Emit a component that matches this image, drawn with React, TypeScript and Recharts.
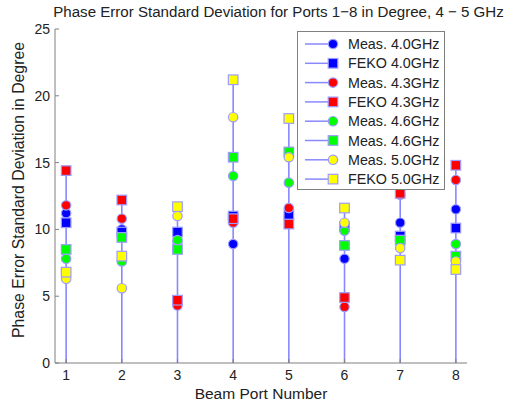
import {
  ReferenceLine,
  Scatter,
  ScatterChart,
  XAxis,
  YAxis,
} from 'recharts'

const ports = [1, 2, 3, 4, 5, 6, 7, 8]
const xTicks = [1, 2, 3, 4, 5, 6, 7, 8]
const yTicks = [0, 5, 10, 15, 20, 25]

const meas40 = [11.2, 10.0, 9.1, 8.9, 10.9, 7.8, 10.5, 11.5]
const feko40 = [10.5, 9.8, 9.8, 11.0, 11.1, 10.2, 9.5, 10.1]
const meas43 = [11.8, 10.8, 4.3, 10.5, 11.6, 4.2, 12.6, 13.7]
const feko43 = [14.4, 12.2, 4.7, 10.8, 10.4, 4.9, 12.7, 14.8]
const meas46 = [7.8, 7.6, 9.2, 14.0, 13.5, 9.9, 9.0, 8.9]
const feko46 = [8.5, 9.4, 8.5, 15.4, 15.8, 8.8, 9.2, 8.0]
const meas50 = [6.3, 5.6, 11.0, 18.4, 15.4, 10.5, 8.6, 7.6]
const feko50 = [6.8, 8.0, 11.7, 21.2, 18.3, 11.6, 7.7, 7.0]

const seriesNames = [
  'Meas. 4.0GHz',
  'FEKO 4.0GHz',
  'Meas. 4.3GHz',
  'FEKO 4.3GHz',
  'Meas. 4.6GHz',
  'Meas. 4.6GHz',
  'Meas. 5.0GHz',
  'FEKO 5.0GHz',
]
const seriesValues = [meas40, feko40, meas43, feko43, meas46, feko46, meas50, feko50]
const seriesColors = ['#0000ff', '#0000ff', '#ff0000', '#ff0000', '#00ff00', '#00ff00', '#ffff00', '#ffff00']
const seriesMarkers = ['circle', 'square', 'circle', 'square', 'circle', 'square', 'circle', 'square']

const title = 'Phase Error Standard Deviation for Ports 1\u22128 in Degree, 4 \u2212 5 GHz'
const xLabel = 'Beam Port Number'
const yLabel = 'Phase Error Standard Deviation in Degree'

const STEM = '#8888ff'
const EDGE = '#9c9cff'
const AXIS = '#808080'
const TEXT = '#222'
const FONT = '"Liberation Sans", Arial, sans-serif'

function Marker({ cx, cy, kind, fill }: { cx: number; cy: number; kind: string; fill: string }) {
  if (kind === 'square') {
    return <rect x={cx - 4.8} y={cy - 4.8} width={9.6} height={9.6} fill={fill} stroke={EDGE} strokeWidth={1.2} />
  }
  return <circle cx={cx} cy={cy} r={4.7} fill={fill} stroke={EDGE} strokeWidth={1.2} />
}

// legend drawn as an overlay so it doesn't eat into the plot area
function LegendBox() {
  return (
    <div
      style={{
        position: 'absolute',
        left: 297,
        top: 31,
        width: 148,
        height: 159,
        boxSizing: 'border-box',
        border: `1px solid ${AXIS}`,
        background: '#fff',
      }}
    >
      <svg width={146} height={157} style={{ display: 'block' }}>
        {seriesNames.map((name, i) => {
          const y = 12 + i * 19.3
          return (
            <g key={i}>
              <line x1={7} x2={35} y1={y} y2={y} stroke={STEM} strokeWidth={1.5} />
              <Marker cx={35} cy={y} kind={seriesMarkers[i]} fill={seriesColors[i]} />
              <text x={50} y={y} dominantBaseline="central" fontSize={14.3} fontFamily={FONT} fill={TEXT}>
                {name}
              </text>
            </g>
          )
        })}
      </svg>
    </div>
  )
}

export default function App() {
  const stemTops = ports.map((_, i) => Math.max(...seriesValues.map((s) => s[i])))
  const tickStyle = { fontSize: 14, fontFamily: FONT, fill: TEXT }

  return (
    <div style={{ position: 'absolute', left: 0, top: 0, width: 520, height: 402, background: '#fff' }}>
      <ScatterChart width={520} height={402} margin={{ top: 29, right: 53, bottom: 0, left: 0 }}>
        <XAxis
          dataKey="port"
          type="number"
          domain={[0.8, 8.2]}
          ticks={xTicks}
          allowDataOverflow
          height={39}
          stroke={AXIS}
          tickSize={-4}
          tickMargin={11}
          tick={tickStyle}
          label={{
            value: xLabel,
            position: 'insideBottom',
            offset: 3,
            style: { fontSize: 15.5, fontFamily: FONT, fill: TEXT },
          }}
        />
        <XAxis
          xAxisId="top"
          orientation="top"
          type="number"
          domain={[0.8, 8.2]}
          ticks={xTicks}
          height={0}
          stroke={AXIS}
          tickSize={-4}
          tickFormatter={() => ''}
        />
        <YAxis
          dataKey="value"
          type="number"
          domain={[0, 25]}
          ticks={yTicks}
          width={55}
          stroke={AXIS}
          tickSize={-4}
          tickMargin={9}
          tick={tickStyle}
          label={{
            value: yLabel,
            content: () => (
              <text
                x={18}
                y={190}
                transform="rotate(-90 18 190)"
                textAnchor="middle"
                dominantBaseline="central"
                fontSize={15.8}
                fontFamily={FONT}
                fill={TEXT}
              >
                {yLabel}
              </text>
            ),
          }}
        />
        <YAxis
          yAxisId="right"
          orientation="right"
          type="number"
          domain={[0, 25]}
          ticks={yTicks}
          width={0}
          stroke={AXIS}
          tickSize={-4}
          tickFormatter={() => ''}
        />
        {ports.map((p, i) => (
          <ReferenceLine
            key={p}
            segment={[
              { x: p, y: 0 },
              { x: p, y: stemTops[i] },
            ]}
            stroke={STEM}
            strokeWidth={1.6}
          />
        ))}
        {seriesValues.map((vals, si) => (
          <Scatter
            key={si}
            name={seriesNames[si]}
            data={ports.map((p, i) => ({ port: p, value: vals[i] }))}
            isAnimationActive={false}
            shape={(props: any) => (
              <Marker cx={props.cx} cy={props.cy} kind={seriesMarkers[si]} fill={seriesColors[si]} />
            )}
          />
        ))}
      </ScatterChart>
      <div
        style={{
          position: 'absolute',
          left: 0,
          top: 3,
          width: 557,
          textAlign: 'center',
          fontSize: 15.1,
          fontFamily: FONT,
          color: TEXT,
          whiteSpace: 'nowrap',
        }}
      >
        {title}
      </div>
      <LegendBox />
    </div>
  )
}
